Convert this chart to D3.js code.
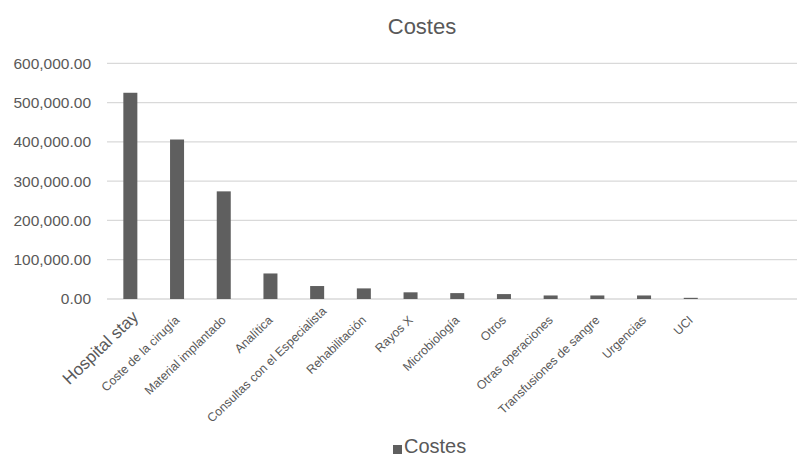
<!DOCTYPE html>
<html><head><meta charset="utf-8">
<script src="https://cdn.jsdelivr.net/npm/d3@7"></script>
<style>body{margin:0;background:#fff}svg{display:block}</style>
</head><body>
<svg id="c" width="797" height="457"></svg>
<script>
const categories = ["Hospital stay","Coste de la cirugía","Material implantado","Analítica","Consultas con el Especialista","Rehabilitación","Rayos X","Microbiología","Otros","Otras operaciones","Transfusiones de sangre","Urgencias","UCI"];
const costes = [525000,406000,274000,65000,33000,27000,17000,15000,12500,9000,9000,9000,3000];
const yTicks = [0,100000,200000,300000,400000,500000,600000];

const svg = d3.select("#c");
const txt = "#595959";
const font = "Liberation Sans, Arial, sans-serif";
const left = 107, step = 46.7;
const x = d3.scaleBand().domain(categories).range([left, left + step*categories.length]).paddingInner(0.7).paddingOuter(0.35);
const y = d3.scaleLinear().domain([0,600000]).range([299,63.3]);

// gridlines
svg.append("g").selectAll("line").data(yTicks).join("line")
  .attr("x1", left).attr("x2", 797)
  .attr("y1", d=>y(d)).attr("y2", d=>y(d))
  .attr("stroke", "#d9d9d9").attr("stroke-width", 1.3);

// y labels
const fmt = d3.format(",.2f");
svg.append("g").selectAll("text").data(yTicks).join("text")
  .attr("x", 91).attr("y", d=>y(d)).attr("dy","0.35em")
  .attr("text-anchor","end").attr("fill",txt)
  .style("font-family",font).style("font-size","15.5px")
  .text(d=>fmt(d));

// bars
svg.append("g").selectAll("rect").data(categories).join("rect")
  .attr("x", d=>x(d)).attr("width", x.bandwidth())
  .attr("y", (d,i)=>y(costes[i])).attr("height",(d,i)=>y(0)-y(costes[i]))
  .attr("fill","#5f5f5f");

// x labels
function labelPos(d,i){
  const cx = x(d)+x.bandwidth()/2;
  if(i===0) return [cx+9, 318];
  if(d.length>25) return [cx+10, 312];
  return [cx+3, 321];
}
svg.append("g").selectAll("text").data(categories).join("text")
  .attr("transform", (d,i)=>{const p=labelPos(d,i);return `translate(${p[0]},${p[1]}) rotate(-44)`;})
  .attr("text-anchor","end").attr("fill",txt)
  .style("font-family",font).style("font-size",(d,i)=>i===0?"17px":"12.3px")
  .text(d=>d);

// title
svg.append("text").attr("x",422).attr("y",34).attr("text-anchor","middle")
  .attr("fill",txt).style("font-family",font).style("font-size","22px").text("Costes");

// legend
svg.append("rect").attr("x",393).attr("y",445).attr("width",9).attr("height",9).attr("fill","#5f5f5f");
svg.append("text").attr("x",404).attr("y",453).attr("fill",txt)
  .style("font-family",font).style("font-size","20px").text("Costes");
</script>
</body></html>
